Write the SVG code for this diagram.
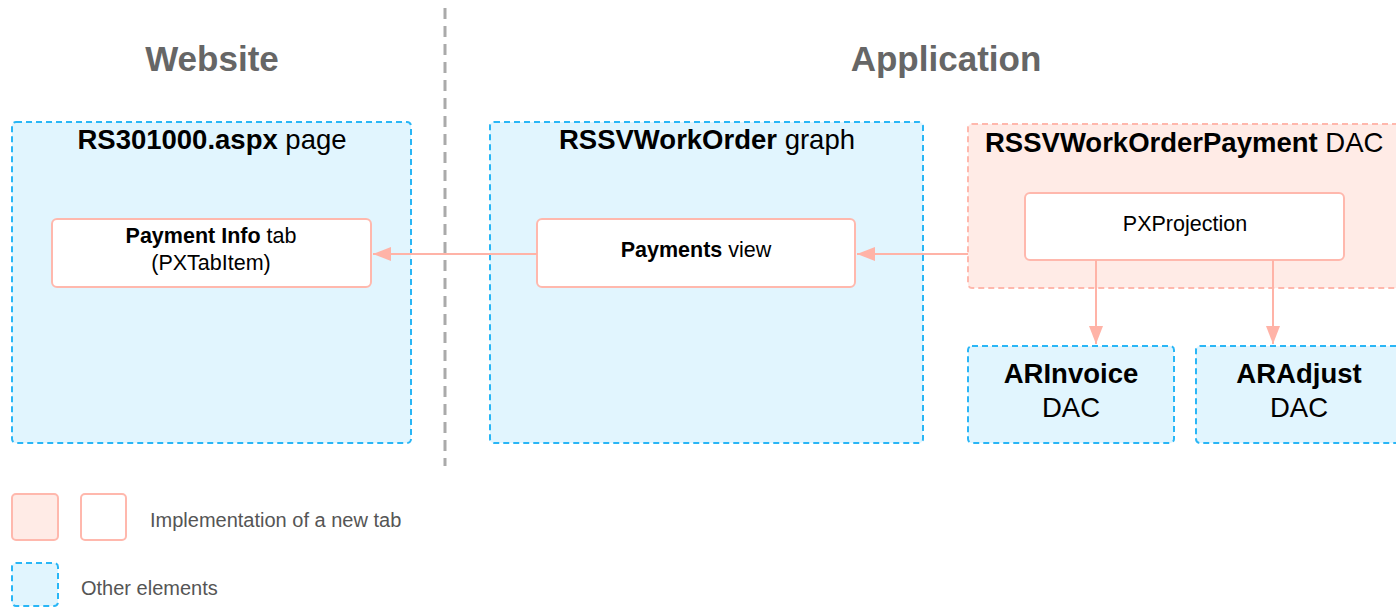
<svg xmlns="http://www.w3.org/2000/svg" width="1396" height="608" viewBox="0 0 1396 608">
<style>
text{font-family:"Liberation Sans",Arial,sans-serif;fill:#000}
.b{font-weight:bold}
.h{font-size:35px;font-weight:bold;fill:#666;text-anchor:middle}
.t{font-size:27.5px;text-anchor:middle}
.s{font-size:21.5px;text-anchor:middle}
.l{font-size:20px;fill:#555}
.blue{fill:#e1f5fe;stroke:#29b6f6;stroke-width:2;stroke-dasharray:6 4}
.pink{fill:#ffebe6;stroke:#ffb8ad;stroke-width:2;stroke-dasharray:6 4}
.wht{fill:#fff;stroke:#ffb8ad;stroke-width:2}
.pinks{fill:#ffebe6;stroke:#ffb8ad;stroke-width:2}
.c{stroke:#ffb3a7;stroke-width:2;fill:none}
</style>
<defs>
<marker id="ah" markerWidth="18" markerHeight="14" refX="18" refY="7" orient="auto" markerUnits="userSpaceOnUse" viewBox="0 0 18 14">
<path d="M0,0 L18,7 L0,14 z" fill="#ffb3a7"/>
</marker>
</defs>
<rect width="1396" height="608" fill="#fff"/>
<line x1="445" y1="8" x2="445" y2="466" stroke="#aaa" stroke-width="3" stroke-dasharray="11 7"/>
<text class="h" x="212" y="71">Website</text>
<text class="h" x="946" y="71">Application</text>

<g id="page">
<rect class="blue" x="12" y="122" width="399" height="321" rx="4"/>
<text class="t" x="212" y="149"><tspan class="b">RS301000.aspx</tspan> page</text>
</g>
<g id="graph">
<rect class="blue" x="490" y="122" width="433" height="321" rx="4"/>
<text class="t" x="707" y="149"><tspan class="b">RSSVWorkOrder</tspan> graph</text>
</g>
<g id="dac">
<rect class="pink" x="968" y="124" width="440" height="164" rx="4"/>
<text class="t" x="985" y="152" style="text-anchor:start"><tspan class="b">RSSVWorkOrderPayment</tspan> DAC</text>
</g>
<g id="tab">
<rect class="wht" x="52" y="219" width="319" height="68" rx="5"/>
<text class="s" x="211" y="243"><tspan class="b">Payment Info</tspan> tab</text>
<text class="s" x="211" y="270">(PXTabItem)</text>
</g>
<g id="view">
<rect class="wht" x="537" y="219" width="318" height="68" rx="5"/>
<text class="s" x="696" y="257"><tspan class="b">Payments</tspan> view</text>
</g>
<g id="projection">
<rect class="wht" x="1025" y="193" width="319" height="67" rx="5"/>
<text class="s" x="1185" y="231">PXProjection</text>
</g>
<g id="arinvoice">
<rect class="blue" x="968" y="346" width="206" height="97" rx="4"/>
<text class="t" x="1071" y="383" font-weight="bold">ARInvoice</text>
<text class="t" x="1071" y="417">DAC</text>
</g>
<g id="aradjust">
<rect class="blue" x="1196" y="346" width="212" height="97" rx="4"/>
<text class="t" x="1299" y="383" font-weight="bold">ARAdjust</text>
<text class="t" x="1299" y="417">DAC</text>
</g>
<g id="connectors">
<line class="c" x1="537" y1="254" x2="373" y2="254" marker-end="url(#ah)"/>
<line class="c" x1="968" y1="254" x2="857" y2="254" marker-end="url(#ah)"/>
<line class="c" x1="1096" y1="260" x2="1096" y2="344" marker-end="url(#ah)"/>
<line class="c" x1="1273" y1="260" x2="1273" y2="344" marker-end="url(#ah)"/>
</g>
<g id="legend">
<rect class="pinks" x="12" y="494" width="46" height="46" rx="4"/>
<rect class="wht" x="81" y="494" width="45" height="46" rx="4"/>
<text class="l" x="150" y="527">Implementation of a new tab</text>
<rect class="blue" x="12" y="563" width="46" height="43" rx="4"/>
<text class="l" x="81" y="595">Other elements</text>
</g>
</svg>
